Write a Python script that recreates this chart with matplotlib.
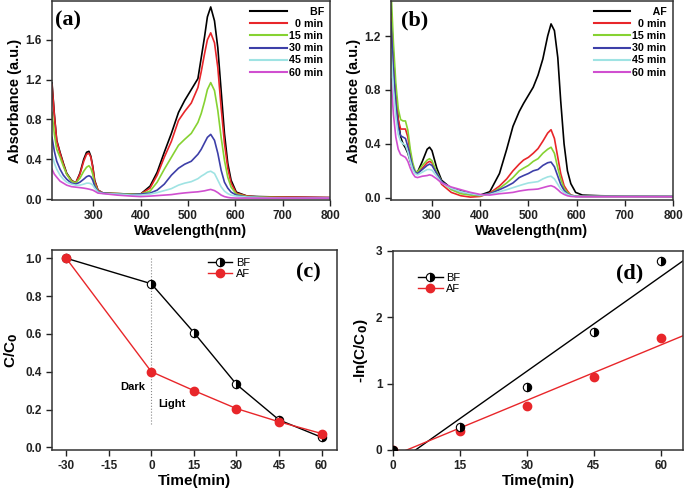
import matplotlib
matplotlib.use("Agg")
import matplotlib.pyplot as plt
import numpy as np

plt.rcParams["axes.unicode_minus"] = False

# ---------------------------------------------------------
# Spectra data (nm, absorbance)
# ---------------------------------------------------------
# leading spaces right-align the legend texts, as in the original
series_labels = ["  0 min", "15 min", "30 min", "45 min", "60 min"]
series_colors = ["#e8262a", "#86d232", "#3d3fa8", "#9fe3e3", "#d04fd0"]

# panel (a) : BF
wl_a = [213, 218, 223, 230, 237, 244, 254, 263, 272, 280, 286, 291, 295, 299,
        303, 310, 321, 350, 380,
        400, 420, 435, 450, 465, 480, 493, 507, 521, 528, 535, 541, 548, 556,
        563, 570, 577, 584, 591, 602, 625, 650, 700, 800]
abs_a_ref = [1.17, 0.85, 0.59, 0.47, 0.36, 0.26, 0.19, 0.16, 0.26, 0.40, 0.47, 0.48, 0.43, 0.33,
             0.19, 0.09, 0.06, 0.055, 0.05,
             0.05, 0.13, 0.27, 0.47, 0.66, 0.87, 0.99, 1.10, 1.21, 1.42, 1.63, 1.83, 1.93, 1.79,
             1.52, 1.09, 0.66, 0.36, 0.19, 0.07, 0.03, 0.025, 0.02, 0.015]
abs_a_0 = [1.15, 0.84, 0.58, 0.46, 0.35, 0.25, 0.185, 0.16, 0.25, 0.38, 0.45, 0.46, 0.42, 0.32,
           0.18, 0.09, 0.06, 0.055, 0.05,
           0.05, 0.11, 0.24, 0.42, 0.58, 0.79, 0.88, 0.965, 1.12, 1.28, 1.46, 1.60, 1.67, 1.57,
           1.32, 0.92, 0.56, 0.31, 0.16, 0.06, 0.03, 0.02, 0.02, 0.015]
abs_a_15 = [0.87, 0.65, 0.50, 0.42, 0.33, 0.25, 0.18, 0.16, 0.21, 0.28, 0.32, 0.335, 0.31, 0.25,
            0.15, 0.08, 0.06, 0.055, 0.05,
            0.05, 0.08, 0.17, 0.30, 0.42, 0.54, 0.60, 0.66, 0.77, 0.86, 0.98, 1.10, 1.17, 1.09,
            0.89, 0.62, 0.39, 0.22, 0.12, 0.05, 0.025, 0.02, 0.015, 0.01]
abs_a_30 = [0.62, 0.48, 0.38, 0.30, 0.24, 0.20, 0.16, 0.15, 0.17, 0.20, 0.225, 0.235, 0.225, 0.19,
            0.13, 0.075, 0.06, 0.05, 0.045,
            0.05, 0.06, 0.09, 0.15, 0.24, 0.31, 0.35, 0.38, 0.45, 0.50, 0.565, 0.62, 0.65, 0.59,
            0.46, 0.29, 0.17, 0.11, 0.07, 0.04, 0.02, 0.015, 0.01, 0.01]
abs_a_45 = [0.45, 0.36, 0.30, 0.24, 0.20, 0.17, 0.15, 0.14, 0.14, 0.15, 0.16, 0.16, 0.155, 0.14,
            0.11, 0.07, 0.055, 0.05, 0.04,
            0.04, 0.05, 0.065, 0.085, 0.105, 0.14, 0.16, 0.175, 0.205, 0.23, 0.25, 0.27, 0.28, 0.257,
            0.19, 0.123, 0.08, 0.055, 0.04, 0.03, 0.02, 0.015, 0.01, 0.01]
abs_a_60 = [0.30, 0.25, 0.22, 0.18, 0.16, 0.14, 0.125, 0.12, 0.115, 0.11, 0.105, 0.10, 0.095, 0.09,
            0.08, 0.06, 0.055, 0.04, 0.03,
            0.025, 0.03, 0.035, 0.04, 0.045, 0.055, 0.062, 0.068, 0.073, 0.078, 0.083, 0.09, 0.097, 0.085,
            0.065, 0.04, 0.025, 0.017, 0.012, 0.01, 0.01, 0.01, 0.01, 0.01]

# panel (b) : AF
wl_b = [215, 220, 225, 230, 235, 240, 245, 250, 255, 260, 265, 270, 280, 290, 295,
        300, 310, 320, 340, 360, 380, 400,
        420, 440, 455, 468, 481, 490, 500, 510, 520, 530, 540, 547, 554, 561,
        567, 574, 581, 588, 598, 612, 650, 700, 800]
abs_b_ref = [1.40, 1.05, 0.78, 0.58, 0.45, 0.40, 0.37, 0.33, 0.27, 0.22, 0.19, 0.19, 0.27, 0.36, 0.375,
             0.35, 0.22, 0.13, 0.07, 0.05, 0.03, 0.02,
             0.045, 0.18, 0.36, 0.53, 0.64, 0.70, 0.76, 0.82, 0.91, 1.03, 1.20, 1.29, 1.24, 1.04,
             0.72, 0.40, 0.20, 0.105, 0.04, 0.02, 0.015, 0.012, 0.01]
abs_b_0 = [1.35, 1.00, 0.75, 0.58, 0.51, 0.51, 0.51, 0.45, 0.33, 0.24, 0.19, 0.18, 0.22, 0.26, 0.27,
           0.26, 0.18, 0.10, 0.04, 0.015, 0.005, 0.01,
           0.035, 0.087, 0.14, 0.20, 0.25, 0.28, 0.30, 0.33, 0.365, 0.42, 0.48, 0.505, 0.44, 0.30,
           0.18, 0.09, 0.05, 0.02, 0.012, 0.01, 0.01, 0.01, 0.01]
abs_b_15 = [1.55, 1.15, 0.85, 0.66, 0.58, 0.57, 0.57, 0.50, 0.36, 0.26, 0.20, 0.19, 0.24, 0.28, 0.29,
            0.275, 0.19, 0.12, 0.06, 0.03, 0.02, 0.015,
            0.03, 0.07, 0.11, 0.15, 0.20, 0.22, 0.24, 0.27, 0.29, 0.33, 0.36, 0.375, 0.33, 0.22,
            0.14, 0.07, 0.04, 0.02, 0.012, 0.01, 0.01, 0.01, 0.01]
abs_b_30 = [1.30, 0.95, 0.70, 0.52, 0.46, 0.45, 0.44, 0.38, 0.30, 0.23, 0.19, 0.18, 0.21, 0.24, 0.25,
            0.24, 0.18, 0.12, 0.07, 0.045, 0.03, 0.02,
            0.03, 0.06, 0.085, 0.11, 0.15, 0.165, 0.18, 0.20, 0.21, 0.24, 0.26, 0.265, 0.23, 0.16,
            0.10, 0.055, 0.03, 0.018, 0.01, 0.01, 0.01, 0.01, 0.01]
abs_b_45 = [1.10, 0.80, 0.60, 0.47, 0.42, 0.40, 0.39, 0.34, 0.27, 0.21, 0.18, 0.17, 0.19, 0.21, 0.21,
            0.205, 0.16, 0.11, 0.07, 0.045, 0.03, 0.02,
            0.025, 0.045, 0.06, 0.075, 0.09, 0.10, 0.11, 0.115, 0.12, 0.14, 0.155, 0.16, 0.14, 0.10,
            0.065, 0.04, 0.025, 0.015, 0.01, 0.01, 0.01, 0.01, 0.01]
abs_b_60 = [0.88, 0.62, 0.45, 0.36, 0.32, 0.31, 0.30, 0.27, 0.22, 0.18, 0.155, 0.15, 0.16, 0.165, 0.17,
            0.165, 0.14, 0.11, 0.08, 0.06, 0.04, 0.025,
            0.02, 0.03, 0.035, 0.04, 0.05, 0.055, 0.06, 0.062, 0.065, 0.075, 0.085, 0.09, 0.08, 0.06,
            0.04, 0.025, 0.015, 0.01, 0.008, 0.008, 0.008, 0.008, 0.008]

# ---------------------------------------------------------
# Kinetics data
# ---------------------------------------------------------
time_c = [-30, 0, 15, 30, 45, 60]
cc0_bf = [1.0, 0.865, 0.607, 0.333, 0.145, 0.053]
cc0_af = [1.0, 0.40, 0.30, 0.205, 0.135, 0.073]

time_d = [0, 15, 30, 45, 60]
lnc_bf = [0.0, 0.35, 0.95, 1.78, 2.85]
lnc_af = [0.0, 0.29, 0.67, 1.10, 1.68]

SANS = "Liberation Sans"
SERIF = "Liberation Serif"
TICK_FS = 8.5
LABEL_FS = 10.5


def style_axes(ax):
    """Origin-like frame: outward ticks on left/bottom, bold tick labels."""
    for sp in ax.spines.values():
        sp.set_linewidth(1.1)
        sp.set_color("#333333")
    ax.tick_params(direction="out", length=4, width=1.0, top=False, right=False,
                   labelsize=TICK_FS, colors="#222222")
    for lbl in ax.get_xticklabels() + ax.get_yticklabels():
        lbl.set_fontfamily(SANS)
        lbl.set_fontweight("bold")


def plot_spectra(ax, wl, ref, curves, ref_label, xlim, ylim, yticks, tag, tag_x):
    ax.plot(wl, ref, color="black", lw=1.2, label=ref_label)
    for vals, lab, col in zip(curves, series_labels, series_colors):
        ax.plot(wl, vals, color=col, lw=1.2, label=lab)
    ax.set_xlim(*xlim)
    ax.set_ylim(*ylim)
    ax.set_xticks([300, 400, 500, 600, 700, 800])
    ax.set_yticks(yticks)
    ax.set_xlabel("Wavelength(nm)", fontsize=LABEL_FS, fontweight="bold", family=SANS, labelpad=1)
    ax.set_ylabel("Absorbance (a.u.)", fontsize=LABEL_FS, fontweight="bold", family=SANS, labelpad=2)
    style_axes(ax)
    leg = ax.legend(loc="upper right", frameon=False, handlelength=3.4, handletextpad=0.2,
                    labelspacing=0.2, borderaxespad=0.35, borderpad=0.2,
                    prop={"family": SANS, "weight": "bold", "size": 7.7})
    for line in leg.get_lines():
        line.set_linewidth(1.5)
    ax.text(tag_x, 0.9, tag, transform=ax.transAxes, fontsize=16, fontweight="bold",
            family=SERIF, ha="left", va="center")


fig = plt.figure(figsize=(6.85, 4.88), dpi=100)

ax_a = fig.add_axes([0.0759, 0.590, 0.406, 0.408])
ax_b = fig.add_axes([0.5708, 0.590, 0.4117, 0.408])
ax_c = fig.add_axes([0.0759, 0.0779, 0.416, 0.410])
ax_d = fig.add_axes([0.5737, 0.0779, 0.4234, 0.408])

plot_spectra(ax_a, wl_a, abs_a_ref, [abs_a_0, abs_a_15, abs_a_30, abs_a_45, abs_a_60],
             "       BF", (213, 800), (-0.01, 1.99), [0.0, 0.4, 0.8, 1.2, 1.6], "(a)", 0.01)
plot_spectra(ax_b, wl_b, abs_b_ref, [abs_b_0, abs_b_15, abs_b_30, abs_b_45, abs_b_60],
             "       AF", (215, 800), (-0.017, 1.46), [0.0, 0.4, 0.8, 1.2], "(b)", 0.035)

# (c) C/C0 versus time
ax_c.axvline(0, ymin=0.13, ymax=0.96, color="#888888", lw=0.8, ls=":")
ax_c.plot(time_c, cc0_bf, color="black", lw=1.0, marker="o", ms=6, fillstyle="right",
          markerfacecolor="black", markerfacecoloralt="white", markeredgecolor="black",
          markeredgewidth=0.8, label="BF", zorder=3)
ax_c.plot(time_c, cc0_af, color="#e8262a", lw=1.0, marker="o", ms=6,
          markerfacecolor="#e8262a", markeredgecolor="#e8262a", label="AF", zorder=3)
ax_c.set_xlim(-35, 65.4)
ax_c.set_ylim(-0.014, 1.044)
ax_c.set_xticks([-30, -15, 0, 15, 30, 45, 60])
ax_c.set_yticks([0.0, 0.2, 0.4, 0.6, 0.8, 1.0])
ax_c.set_xlabel("Time(min)", fontsize=11, fontweight="bold", family=SANS, labelpad=1)
ax_c.set_ylabel(r"C/C$_\mathbf{0}$", fontsize=11, fontweight="bold", family=SANS, labelpad=4)
style_axes(ax_c)
ax_c.legend(loc="upper left", bbox_to_anchor=(0.52, 1.0), frameon=False, handlelength=2.2,
            handletextpad=0.3, labelspacing=0.15, borderpad=0.2,
            prop={"family": SANS, "size": 8})
ax_c.text(-6.6, 0.32, "Dark", fontsize=8, fontweight="bold", family=SANS, ha="center", va="center")
ax_c.text(7.1, 0.23, "Light", fontsize=8, fontweight="bold", family=SANS, ha="center", va="center")
ax_c.text(0.9, 0.885, "(c)", transform=ax_c.transAxes, fontsize=16, fontweight="bold",
          family=SERIF, ha="center", va="center")

# (d) first-order kinetics with linear fits
fit_x = np.array([0, 65])
k_bf, b_bf = np.polyfit(time_d, lnc_bf, 1)
k_af, b_af = np.polyfit(time_d, lnc_af, 1)
ax_d.plot(fit_x, k_bf * fit_x + b_bf, color="black", lw=1.0, zorder=2)
ax_d.plot(fit_x, k_af * fit_x + b_af, color="#e8262a", lw=1.0, zorder=2)
ax_d.plot(time_d, lnc_af, ls="none", marker="o", ms=6, color="#e8262a", zorder=3)
ax_d.plot(time_d, lnc_bf, ls="none", marker="o", ms=6, fillstyle="right",
          markerfacecolor="black", markerfacecoloralt="white", markeredgecolor="black",
          markeredgewidth=0.8, zorder=4)
# legend proxies (line + marker like the original)
ax_d.plot([], [], color="black", lw=1.0, marker="o", ms=6, fillstyle="right",
          markerfacecolor="black", markerfacecoloralt="white", markeredgecolor="black",
          markeredgewidth=0.8, label="BF")
ax_d.plot([], [], color="#e8262a", lw=1.0, marker="o", ms=6, label="AF")
ax_d.set_xlim(0, 65)
ax_d.set_ylim(0, 3)
ax_d.set_xticks([0, 15, 30, 45, 60])
ax_d.set_yticks([0, 1, 2, 3])
ax_d.set_xlabel("Time(min)", fontsize=11, fontweight="bold", family=SANS, labelpad=1)
ax_d.set_ylabel(r"-ln(C/C$_\mathbf{0}$)", fontsize=11, fontweight="bold", family=SANS, labelpad=4)
style_axes(ax_d)
ax_d.legend(loc="upper left", bbox_to_anchor=(0.06, 0.93), frameon=False, handlelength=2.2,
            handletextpad=0.3, labelspacing=0.15, borderpad=0.2,
            prop={"family": SANS, "size": 8})
ax_d.text(0.817, 0.885, "(d)", transform=ax_d.transAxes, fontsize=16, fontweight="bold",
          family=SERIF, ha="center", va="center")

fig.savefig("out.png", dpi=100)
